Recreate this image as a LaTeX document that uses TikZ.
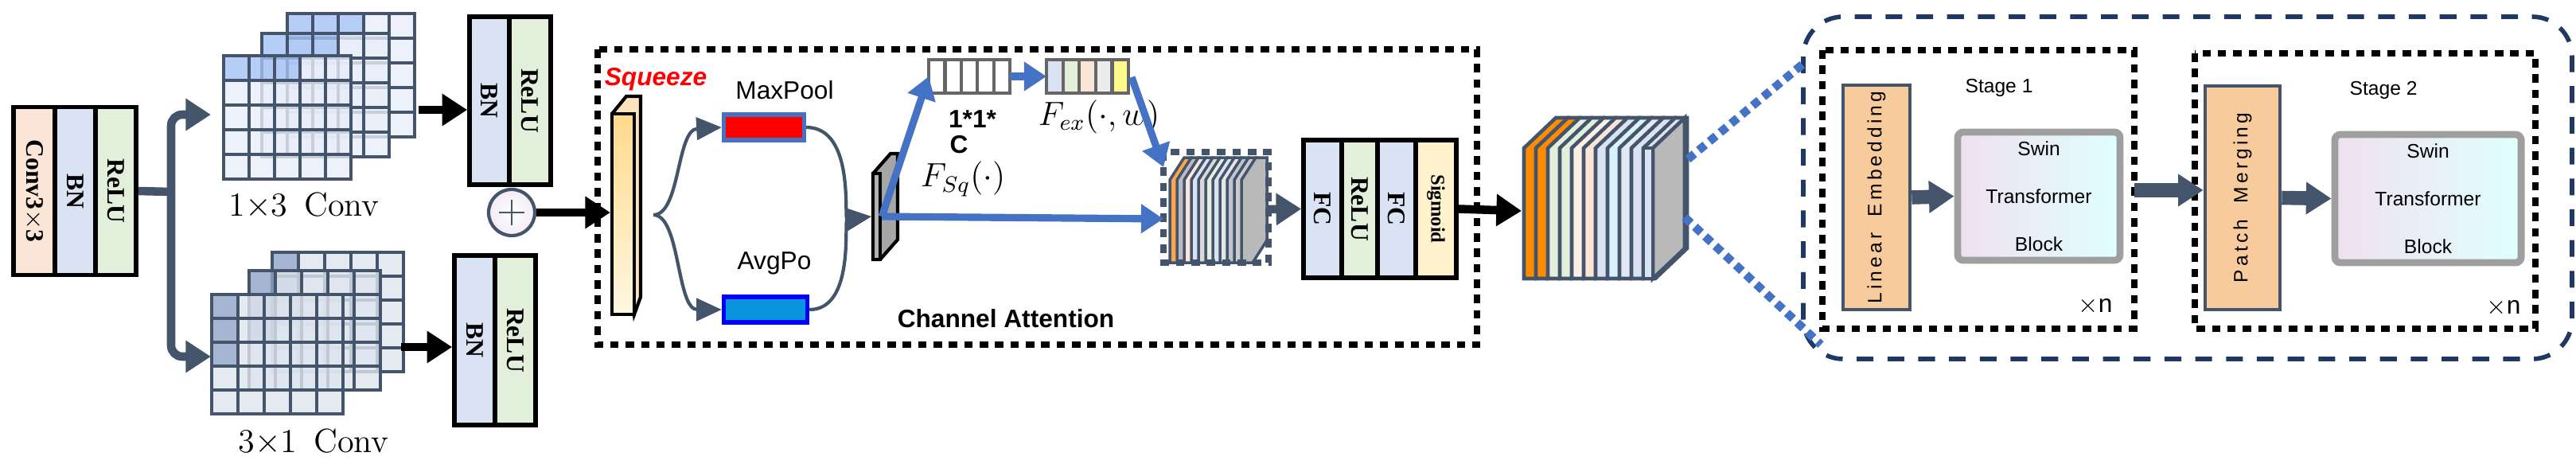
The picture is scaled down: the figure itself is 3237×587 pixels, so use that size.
\documentclass[tikz,border=0pt]{standalone}
\usepackage{fontspec}
\usepackage{amsmath}
\newfontfamily\sans{Liberation Sans}
\newfontfamily\serif{Liberation Serif}
\usetikzlibrary{arrows.meta,calc}
\definecolor{peach}{HTML}{FBE5D6}
\definecolor{lblue}{HTML}{DAE3F3}
\definecolor{lgreen}{HTML}{E2EFDA}
\definecolor{lyellow}{HTML}{FFF2CC}
\definecolor{slate}{HTML}{44546A}
\definecolor{accent}{HTML}{4472C4}
\definecolor{navy}{HTML}{203864}
\definecolor{orangefill}{HTML}{F8CB9C}
\definecolor{cellA}{HTML}{E8EEF9}
\definecolor{cellAh}{HTML}{A4C2F4}
\definecolor{cellB}{HTML}{DFE5EE}
\definecolor{cellBh}{HTML}{8EA4C8}
\begin{document}
\begin{tikzpicture}[x=0.01cm,y=-0.01cm]
\tikzstyle{every node}=[font=\normalsize]
\tikzstyle{col}=[draw=black,line width=1.6pt,rotate=-90,inner sep=0pt,font=\serif\bfseries\small]
\tikzstyle{fatarrow}=[line width=3pt,-{Triangle[length=9pt,width=11pt]}]
\tikzstyle{bluearrow}=[accent,line width=2.6pt,-{Triangle[length=8pt,width=10pt]}]
\tikzstyle{cell}=[draw=slate,line width=1pt,fill opacity=0.8]
\useasboundingbox (0,0) rectangle (3237,587);

% Conv3x3 / BN / ReLU
\node (conv) [col,fill=peach,minimum width=2.11cm,minimum height=0.52cm] at (43,240) {Conv3$\times$3};
\node (bn0) [col,fill=lblue,minimum width=2.11cm,minimum height=0.51cm] at (94.5,240) {BN};
\node (relu0) [col,fill=lgreen,minimum width=2.11cm,minimum height=0.51cm] at (145.5,240) {ReLU};

% branches
\coordinate (split) at (215,241);
\coordinate (up) at (265,144);
\coordinate (down) at (265,448);
\draw [slate,line width=3pt] (relu0.north) -- (split);
\draw [slate,fatarrow,rounded corners=4pt] (split) |- (up);
\draw [slate,fatarrow,rounded corners=4pt] (split) |- (down);

% 1x3 conv kernels
\foreach \ox/\oy in {361/17,329/42,281/70}{
  \foreach \r in {0,...,4}{
    \foreach \c in {0,...,4}{
      \pgfmathsetmacro\hl{(\r==0 && \c<3) ? 1 : 0}
      \ifdim\hl pt>0.5pt
        \filldraw [cell,fill=cellAh] (\ox+\c*32,\oy+\r*31) rectangle ++(32,31);
      \else
        \filldraw [cell,fill=cellA] (\ox+\c*32,\oy+\r*31) rectangle ++(32,31);
      \fi
    }
  }
}
\node (lbl13) at (382,258) {\large 1$\times$3\, Conv};

% 3x1 conv kernels
\foreach \ox/\oy in {342/317,313/340,266/370}{
  \foreach \r in {0,...,4}{
    \foreach \c in {0,...,4}{
      \pgfmathsetmacro\hl{(\c==0 && \r<3) ? 1 : 0}
      \ifdim\hl pt>0.5pt
        \filldraw [cell,fill=cellBh] (\ox+\c*33,\oy+\r*30) rectangle ++(33,30);
      \else
        \filldraw [cell,fill=cellB] (\ox+\c*33,\oy+\r*30) rectangle ++(33,30);
      \fi
    }
  }
}
\node (lbl31) at (394,555) {\large 3$\times$1\, Conv};

% BN / ReLU after each branch
\node (bn1) [col,fill=lblue,minimum width=2.11cm,minimum height=0.50cm] at (615,126.5) {BN};
\node (relu1) [col,fill=lgreen,minimum width=2.11cm,minimum height=0.52cm] at (666,126.5) {ReLU};
\node (bn2) [col,fill=lblue,minimum width=2.13cm,minimum height=0.51cm] at (596.5,427.5) {BN};
\node (relu2) [col,fill=lgreen,minimum width=2.13cm,minimum height=0.51cm] at (647.5,427.5) {ReLU};
\coordinate (g1) at (526,138);
\coordinate (g2) at (504,436);
\draw [fatarrow] (g1) -- (bn1.south |- g1);
\draw [fatarrow] (g2) -- (bn2.south |- g2);

\node (sum) [circle,draw=slate,line width=1.2pt,inner color=white,outer color=lblue!70!violet!20,minimum size=0.58cm,inner sep=0pt] at (643,267) {};
\draw [slate,line width=0.6pt] ($(sum)+(-16,0)$) -- ($(sum)+(16,0)$) ($(sum)+(0,-16)$) -- ($(sum)+(0,16)$);

% channel attention box
\draw [line width=2.5pt,dash pattern=on 3pt off 2.5pt] (751,62) rectangle (1856,433);
\node (ca) [font=\sans\bfseries\small] at (1264,400) {Channel Attention};
\node (sq) [font=\sans\bfseries\itshape\small,text=red] at (824,100) {Squeeze};
\draw [fatarrow] (sum) -- (767,267);

% squeeze bar
\draw [line width=1.2pt,fill=lyellow!70!orange!60] (769,143) -- (787,121) -- (805,121) -- (805,373) -- (797,395) -- cycle;
\node (bar) [draw=black,line width=1.2pt,left color=yellow!35!orange!45,right color=lyellow!60,shading angle=0,minimum width=0.28cm,minimum height=2.52cm,inner sep=0pt] at (783,269) {};
\coordinate (barout) at (821,270);

% pooling boxes
\node (maxlbl) [font=\sans\small] at (986,113) {MaxPool};
\node (maxp) [draw=accent,line width=1.5pt,fill=red,minimum width=1.01cm,minimum height=0.32cm,inner sep=0pt] at (960,160) {};
\node (avglbl) [font=\sans\small] at (973,331) {AvgPo};
\node (avgp) [draw=blue,line width=1.5pt,fill=cyan!80!blue,minimum width=1.05cm,minimum height=0.32cm,inner sep=0pt] at (962,389) {};
\draw [slate,line width=1.2pt,-{Triangle[length=9pt,width=8pt]}] (barout) .. controls (855,270) and (850,163) .. (maxp.west);
\draw [slate,line width=1.2pt,-{Triangle[length=9pt,width=8pt]}] (barout) .. controls (855,270) and (850,389) .. (avgp.west);

% gray plate
\draw [line width=1.2pt,fill=gray!70] (1097,218) -- (1119,193) -- (1128,193) -- (1128,301) -- (1106,326) -- (1097,326) -- cycle;
\node (plate) [draw=black,line width=1.2pt,fill=gray!60,minimum width=0.09cm,minimum height=1.08cm,inner sep=0pt] at (1101.5,272) {};
\draw [slate,line width=1.2pt,-{Triangle[length=9pt,width=8pt]}] (maxp.east) .. controls (1075,160) and (1060,276) .. (plate.west);
\draw [slate,line width=1.2pt,-{Triangle[length=9pt,width=8pt]}] (avgp.east) .. controls (1075,389) and (1060,276) .. (plate.west);

% vectors
\foreach \i in {0,...,4}
  \draw [gray!80!black,line width=1.2pt,fill=white] (1167+\i*20.4,75) rectangle ++(20.4,42);
\foreach \cc [count=\i from 0] in {lblue,lgreen,peach,gray!15,yellow!45}
  \draw [gray!80!black,line width=1.2pt,fill=\cc] (1315+\i*20.6,75) rectangle ++(20.6,42);
\coordinate (v1) at (1167,96);
\coordinate (v1r) at (1269,96);
\coordinate (v2) at (1315,96);
\coordinate (v2r) at (1422,97);
\node (sz) [font=\sans\bfseries\small] at (1222,150) {1*1*};
\node (szc) [font=\sans\bfseries\small] at (1205,182) {C};
\node (fsq) at (1210,225) {\large$F_{Sq}(\cdot)$};
\node (fex) at (1381,147) {\large$F_{ex}(\cdot,w)$};

% stack of weighted maps
\foreach \cc [count=\i from 0] in {orange!70,lblue!60!gray,peach,lblue,gray!30,lgreen,lblue,gray!20,lblue!70!gray,gray!40}
  \draw [slate,line width=1pt,fill=\cc] (1470+\i*9,226) -- ++(18,-28) -- ++(9,0) -- ++(0,104) -- ++(-18,28) -- ++(-9,0) -- cycle;
\draw [slate,line width=1pt,fill=gray!55] (1560,226) -- ++(18,-28) -- ++(14,0) -- ++(0,104) -- ++(-18,28) -- ++(-14,0) -- cycle;
\draw [slate,line width=2.5pt,dash pattern=on 3pt off 2.5pt] (1462,191) rectangle (1594,330);
\coordinate (stin) at (1462,275);
\coordinate (stout) at (1594,263);
\draw [bluearrow] (plate.east) -- (v1);
\draw [bluearrow] (plate.east) -- (stin);
\draw [bluearrow] (v1r) -- (v2);
\draw [bluearrow] (v2r) -- (1462,210);

% FC ReLU FC Sigmoid
\node (fc1) [col,fill=lblue,minimum width=1.73cm,minimum height=0.48cm] at (1662,262.5) {FC};
\node (relu3) [col,fill=lgreen,minimum width=1.73cm,minimum height=0.45cm] at (1708.5,262.5) {ReLU};
\node (fc2) [col,fill=lblue,minimum width=1.73cm,minimum height=0.48cm] at (1755,262.5) {FC};
\node (sig) [col,fill=lyellow,minimum width=1.73cm,minimum height=0.51cm,font=\serif\bfseries\scriptsize] at (1804.5,262.5) {Sigmoid};
\draw [slate,fatarrow] (stout) -- (fc1.south);

% output cube
\foreach \cc [count=\i from 0] in {orange!90!yellow,orange!90!yellow,lgreen,lgreen,peach!60,peach,lblue,cyan!15,lblue!80,lblue,lblue}
  \draw [slate,line width=1.3pt,fill=\cc] (1915+\i*15,186) -- ++(40,-38) -- ++(15,0) -- ++(0,164) -- ++(-40,38) -- ++(-15,0) -- cycle;
\draw [slate,line width=1.3pt,fill=gray!55] (2077,186) -- (2117,148) -- (2117,312) -- (2077,350) -- cycle;
\draw [slate,line width=1.3pt,fill=lblue] (2065,186) rectangle (2077,350);
\coordinate (cube) at (1912,265);
\draw [fatarrow] (sig.north) -- (cube);

% swin part
\draw [navy,line width=1.6pt,dash pattern=on 6pt off 5pt,rounded corners=0.5cm] (2266,21) rectangle (3232,451);
\draw [accent,line width=3pt,dotted] (2121,200) -- (2266,80);
\draw [accent,line width=3pt,dotted] (2117,273) -- (2288,433);
\draw [line width=2.5pt,dash pattern=on 3pt off 2.5pt] (2290,63) rectangle (2682,413);
\draw [line width=2.5pt,dash pattern=on 3pt off 2.5pt] (2758,67) rectangle (3186,413);
\node (st1) [font=\sans\scriptsize] at (2512,110) {Stage 1};
\node (st2) [font=\sans\scriptsize] at (2995,113) {Stage 2};
\node (n1) [font=\sans\small] at (2633,385) {$\times$n};
\node (n2) [font=\sans\small] at (3146,387) {$\times$n};
\node (emb) [draw=slate,line width=1.3pt,fill=orangefill,rotate=90,minimum width=2.82cm,minimum height=0.84cm,inner sep=0pt,font=\sans\scriptsize] at (2358,248) {L\,i\,n\,e\,a\,r\;\; E\,m\,b\,e\,d\,d\,i\,n\,g};
\node (swin1) [draw=gray!75,line width=2.5pt,rounded corners=2pt,left color=violet!12,right color=cyan!12,minimum width=2.04cm,minimum height=1.37cm,align=center,font=\sans\scriptsize] at (2562,246.5) {Swin\\[9pt]Transformer\\[9pt]Block};
\node (merge) [draw=slate,line width=1.3pt,fill=orangefill,rotate=90,minimum width=2.81cm,minimum height=0.94cm,inner sep=0pt,font=\sans\scriptsize] at (2818,248.5) {P\,a\,t\,c\,h\;\; M\,e\,r\,g\,i\,n\,g};
\node (swin2) [draw=gray!75,line width=2.5pt,rounded corners=2pt,left color=violet!12,right color=cyan!12,minimum width=2.34cm,minimum height=1.37cm,align=center,font=\sans\scriptsize] at (3051,249.5) {Swin\\[9pt]Transformer\\[9pt]Block};
\draw [slate,fatarrow,line width=5pt] (emb.south) -- (swin1.west);
\draw [slate,fatarrow,line width=5pt] (2682,239) -- (merge.north |- 0,239);
\draw [slate,fatarrow,line width=5pt] (merge.south) -- (swin2.west);
\end{tikzpicture}
\end{document}
